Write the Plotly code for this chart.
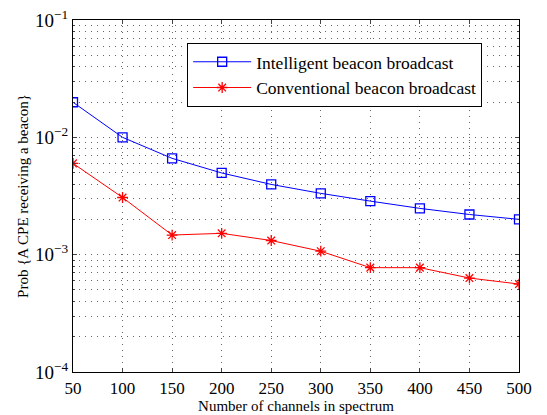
import plotly.graph_objects as go

channels = [50, 100, 150, 200, 250, 300, 350, 400, 450, 500]
intelligent = [0.0199, 0.0100, 0.00662, 0.00497, 0.00397, 0.00333, 0.00286, 0.00248, 0.00220, 0.00200]
conventional = [0.0060, 0.00307, 0.00147, 0.00152, 0.00132, 0.00107, 0.000775, 0.000775, 0.000632, 0.000562]

x_ticks = [50, 100, 150, 200, 250, 300, 350, 400, 450, 500]
y_tickvals = [1e-4, 1e-3, 1e-2, 1e-1]
y_ticktext = ["10<sup>−4</sup>", "10<sup>−3</sup>", "10<sup>−2</sup>", "10<sup>−1</sup>"]

font_family = "Liberation Serif, Times New Roman, serif"

fig = go.Figure()
fig.add_trace(go.Scatter(
    x=channels, y=intelligent, mode="lines+markers",
    name="Intelligent beacon broadcast",
    line=dict(color="#0000ff", width=1),
    marker=dict(symbol="square-open", size=9, color="#0000ff", line=dict(width=1.3, color="#0000ff")),
))
fig.add_trace(go.Scatter(
    x=channels, y=conventional, mode="lines+markers",
    name="Conventional beacon broadcast",
    line=dict(color="#ff0000", width=1),
    marker=dict(symbol="asterisk-open", size=9, color="#ff0000", line=dict(width=1.3, color="#ff0000")),
))

grid_col = "rgba(0,0,0,0.6)"
grid_dash = "1px,5px"
fig.update_layout(
    width=547, height=415,
    margin=dict(l=73, r=28, t=20, b=43, autoexpand=False),
    paper_bgcolor="white", plot_bgcolor="white",
    font=dict(family=font_family, size=15, color="black"),
    showlegend=True,
    legend=dict(
        x=0.256, y=0.935, xanchor="left", yanchor="top",
        bordercolor="black", borderwidth=1, bgcolor="white",
        font=dict(family=font_family, size=17.5),
        tracegroupgap=0, itemwidth=58,
    ),
    xaxis=dict(
        title=dict(text="Number of channels in spectrum", standoff=0, font=dict(size=15)),
        automargin=False,
        range=[50, 500], tickvals=x_ticks, ticks="inside", ticklen=4,
        showline=True, linecolor="black", linewidth=1.2, mirror="ticks",
        showgrid=True, gridcolor=grid_col, griddash=grid_dash, gridwidth=1,
        zeroline=False, tickfont=dict(size=17),
    ),
    yaxis=dict(
        title=dict(text="Prob {A CPE receiving a beacon}", standoff=2, font=dict(size=15)),
        automargin=False,
        type="log", range=[-4, -1], tickvals=y_tickvals, ticktext=y_ticktext,
        ticks="inside", ticklen=4,
        showline=True, linecolor="black", linewidth=1.2, mirror="ticks",
        showgrid=True, gridcolor=grid_col, griddash=grid_dash, gridwidth=1,
        zeroline=False, tickfont=dict(size=19),
        minor=dict(ticks="inside", ticklen=2, showgrid=True, gridcolor=grid_col, griddash=grid_dash, gridwidth=1,
                   tickvals=[m * 10 ** e for e in (-4, -3, -2) for m in range(2, 10)]),
    ),
)

fig.write_html("out.html", config={"displayModeBar": False},
               post_script="document.body.style.margin='0';document.body.style.padding='0';")
